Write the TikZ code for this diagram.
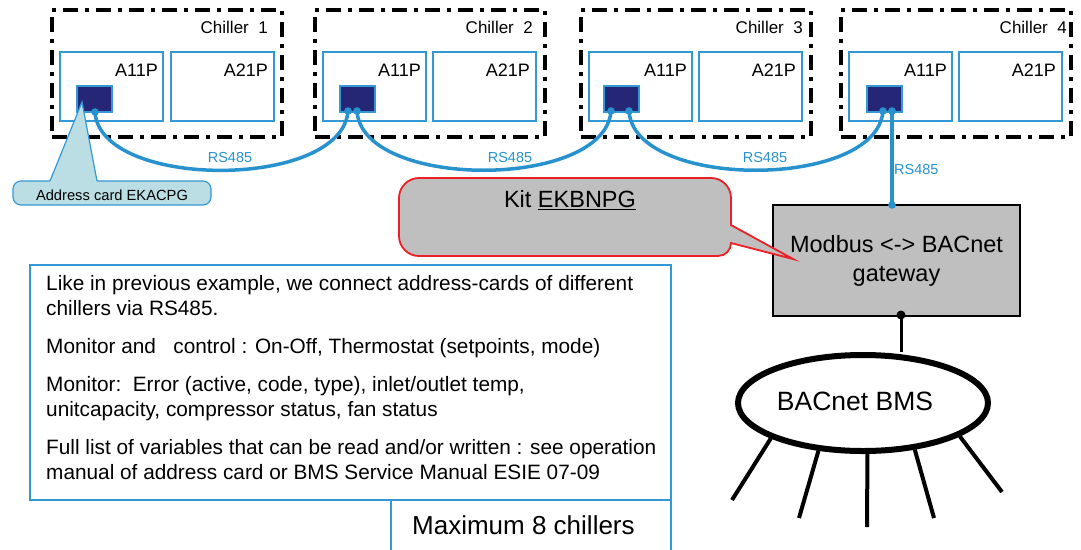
\documentclass[tikz,border=0pt]{standalone}
\usepackage{fontspec}
\setmainfont{Liberation Sans}
\usetikzlibrary{shapes.geometric}
\definecolor{cblue}{RGB}{40,146,206}
\definecolor{bblue}{RGB}{52,152,214}
\definecolor{navy}{RGB}{38,38,118}
\definecolor{gfill}{RGB}{191,191,191}
\definecolor{kred}{RGB}{236,30,38}
\definecolor{lcyan}{RGB}{186,222,228}
\begin{document}
\begin{tikzpicture}[x=1pt,y=1pt,
  chillerbox/.style={draw, line width=4pt, dash pattern=on 15pt off 7pt on 4pt off 7pt,
     minimum width=230pt, minimum height=127pt, anchor=north west, inner sep=0pt, outer sep=0pt},
  pbox/.style={draw=bblue, line width=1.6pt, minimum width=103pt, minimum height=69pt,
     anchor=north west, inner sep=0pt, outer sep=0pt},
  card/.style={draw=bblue, fill=navy, line width=1.2pt, minimum width=35pt, minimum height=26pt,
     anchor=north west, inner sep=0pt, outer sep=0pt},
  clabel/.style={anchor=base east, font=\fontsize{17}{20}\selectfont, inner sep=0pt},
  plabel/.style={anchor=base east, font=\fontsize{18}{20}\selectfont, inner sep=0pt},
  rslabel/.style={text=cblue, font=\fontsize{14.5}{16}\selectfont, inner sep=0pt},
  cable/.style={draw=cblue, line width=3.5pt},
  cdot/.style={fill=cblue},
  leg/.style={line width=4pt},
]
\useasboundingbox (0,0) rectangle (1081,-549);

% chillers
\node[chillerbox] (c1) at (52,-10) {};
\node[chillerbox] (c2) at (315,-10) {};
\node[chillerbox] (c3) at (581,-10) {};
\node[chillerbox] (c4) at (841,-10) {};
\node[clabel] (c1l) at (268,-33) {Chiller\ \ 1};
\node[clabel] (c2l) at (533,-33) {Chiller\ \ 2};
\node[clabel] (c3l) at (803,-33) {Chiller\ \ 3};
\node[clabel] (c4l) at (1067,-33) {Chiller\ \ 4};

% PCBs
\node[pbox] (a1) at (60,-52) {};
\node[pbox] (b1) at (171,-52) {};
\node[pbox] (a2) at (323,-52) {};
\node[pbox] (b2) at (433,-52) {};
\node[pbox] (a3) at (589,-52) {};
\node[pbox] (b3) at (699,-52) {};
\node[pbox] (a4) at (849,-52) {};
\node[pbox] (b4) at (959,-52) {};
\foreach \n in {a1,a2,a3,a4}{
  \node[plabel] (\n t) at ([shift={(-5,-24.5)}]\n.north east) {A11P};}
\foreach \n in {b1,b2,b3,b4}{
  \node[plabel] (\n t) at ([shift={(-6,-24.5)}]\n.north east) {A21P};}

% address cards
\node[card] (k1) at (77,-86) {};
\node[card] (k2) at (340,-86) {};
\node[card] (k3) at (604,-86) {};
\node[card] (k4) at (867,-86) {};

% connection points
\coordinate (p1r) at (95,-112);
\coordinate (p2l) at (348,-111);
\coordinate (p2r) at (357,-111);
\coordinate (p3l) at (611,-111);
\coordinate (p3r) at (629,-111);
\coordinate (p4l) at (883,-111);
\coordinate (p4r) at (892,-111);

% gateway
\node[draw, fill=gfill, line width=1.2pt, minimum width=247pt, minimum height=111pt,
      anchor=north west, inner sep=0pt, outer sep=0pt, align=center,
      font=\fontsize{23.5}{29}\selectfont] (gw) at (773,-205) {Modbus <-> BACnet\\gateway};
\coordinate (gwt) at (892,-205);
\coordinate (gwb) at (901,-315);

% cables
\draw[cable] (p1r) .. controls (100,-190) and (342,-190) .. (p2l);
\draw[cable] (p2r) .. controls (362,-190) and (605,-190) .. (p3l);
\draw[cable] (p3r) .. controls (634,-190) and (877,-190) .. (p4l);
\draw[cable] (p4r) -- (gwt);
\foreach \p in {p1r,p2l,p2r,p3l,p3r,p4l,p4r,gwt}{\fill[cdot] (\p) circle (3.8pt);}
\node[rslabel] (rs1) at (230,-158) {RS485};
\node[rslabel] (rs2) at (510,-158) {RS485};
\node[rslabel] (rs3) at (765,-158) {RS485};
\node[rslabel, anchor=west] (rs4) at (894,-170) {RS485};

% BMS
\node[draw, ellipse, line width=6pt, minimum width=250pt, minimum height=96pt, inner sep=0pt,
      font=\fontsize{26.5}{30}\selectfont] (bms) at (863,-403) {\raisebox{4pt}{BACnet BMS}\hspace*{16pt}};
\draw[line width=3pt] (gwb) -- (gwb |- bms.north);
\fill (gwb) circle (4.5pt);
\coordinate (e1) at (732,-500);
\coordinate (e2) at (799,-518);
\coordinate (e3) at (867,-527);
\coordinate (e4) at (934,-518);
\coordinate (e5) at (1002,-492);
\draw[leg] (bms.201) -- (e1);
\draw[leg] (bms.227) -- (e2);
\draw[leg] (bms.275) -- (e3);
\draw[leg] (bms.318) -- (e4);
\draw[leg] (bms.341) -- (e5);

% Kit callout
\draw[draw=kred, fill=gfill, line width=1.8pt]
  (419,-178) -- (711,-178) arc[start angle=90, end angle=0, radius=20pt]
  -- (731,-225) -- (793,-259) -- (731,-243)
  arc[start angle=0, end angle=-90, radius=13pt]
  -- (419,-256) arc[start angle=270, end angle=180, radius=20pt]
  -- (399,-198) arc[start angle=180, end angle=90, radius=20pt] -- cycle;
\node[font=\fontsize{23.5}{26}\selectfont, inner sep=0pt] (kit) at (570,-200) {Kit \underline{EKBNPG}};

% address card callout
\node[draw=bblue, fill=lcyan, line width=1.2pt, rounded corners=8pt, minimum width=198pt,
      minimum height=24pt, anchor=north west, inner sep=0pt, outer sep=0pt] (ac) at (13,-181) {};
\fill[lcyan] (50,-184) -- (50,-181) -- (82,-102) -- (97,-181) -- (97,-184) -- cycle;
\draw[bblue, line width=1.2pt] (50,-181) -- (82,-102) -- (97,-181);
\node[font=\fontsize{14.7}{16}\selectfont, inner sep=0pt] (act) at (112,-195) {Address card EKACPG};

% text box
\draw[bblue, line width=1.8pt] (30,-265) rectangle (671,-500);
\draw[bblue, line width=1.8pt] (391,-500) -- (391,-552);
\draw[bblue, line width=1.8pt] (671,-500) -- (671,-552);
\node[anchor=north west, align=left, inner sep=0pt, font=\fontsize{20.8}{25}\selectfont] (txt) at (46,-275.5)
 {Like in previous example, we connect address-cards of different\\
  chillers via RS485.\\[13pt]
  Monitor and\ \ \ control : On-Off, Thermostat (setpoints, mode)\\[13pt]
  Monitor:\ \ Error (active, code, type), inlet/outlet temp,\\
  unitcapacity, compressor status, fan status\\[13pt]
  Full list of variables that can be read and/or written : see operation\\
  manual of address card or BMS Service Manual ESIE 07-09};
\node[anchor=west, inner sep=0pt, font=\fontsize{26}{28}\selectfont] (max) at (412,-525) {Maximum 8 chillers};
\end{tikzpicture}
\end{document}
